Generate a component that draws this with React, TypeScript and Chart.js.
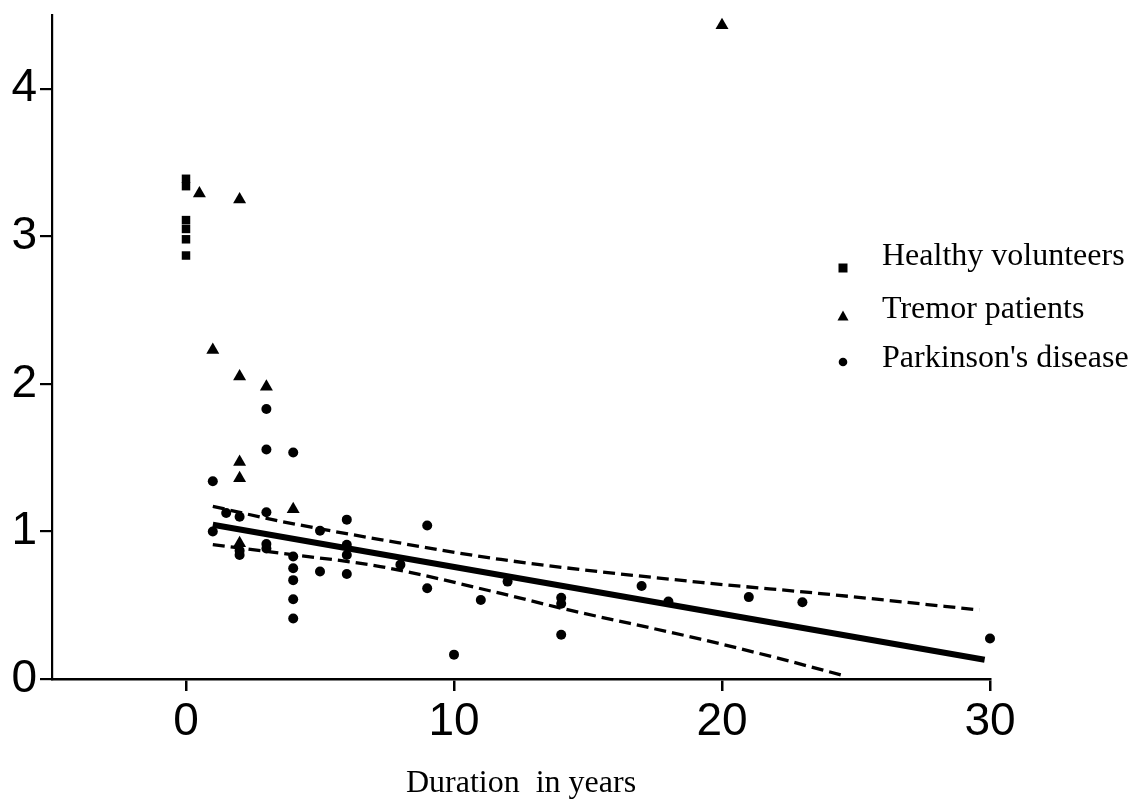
import React, { useEffect, useRef } from "react";
import { Chart, registerables } from "chart.js";

Chart.register(...registerables);

// ---- Data ----
const HEALTHY_X = [0, 0, 0, 0, 0, 0];
const HEALTHY_Y = [3.39, 3.34, 3.11, 3.05, 2.98, 2.87];

const TREMOR_X = [0.5, 2, 1, 2, 3, 2, 2, 4, 2, 20];
const TREMOR_Y = [3.29, 3.25, 2.23, 2.05, 1.98, 1.47, 1.36, 1.15, 0.92, 4.43];

const PD_X = [
  1, 1.5, 2, 3, 3, 3, 4, 5, 6, 1, 2, 2, 3, 3, 4, 4, 4, 4, 4, 5, 6, 6, 6, 8, 9, 9, 10, 11, 12, 14, 14, 14, 17,
  18, 21, 23, 30,
];
const PD_Y = [
  1.34, 1.125, 1.1, 1.13, 1.83, 1.555, 1.535, 1.005, 1.08, 1.0, 0.87, 0.84, 0.915, 0.885, 0.83, 0.75, 0.67, 0.54,
  0.41, 0.728, 0.91, 0.84, 0.712, 0.775, 1.04, 0.615, 0.165, 0.535, 0.66, 0.55, 0.51, 0.3, 0.63, 0.525, 0.555,
  0.52, 0.275,
];

const FIT_X = [1, 29.8];
const FIT_Y = [1.045, 0.13];

const UPPER_X = [1, 3.5, 7.25, 11.75, 19.2, 23.8, 29.6];
const UPPER_Y = [1.17, 1.07, 0.945, 0.81, 0.655, 0.577, 0.468];

const LOWER_X = [1, 3.5, 7.25, 11.75, 14, 19.2, 22, 24.6];
const LOWER_Y = [0.91, 0.853, 0.762, 0.58, 0.48, 0.27, 0.145, 0.02];

const X_TICKS = [0, 10, 20, 30];
const Y_TICKS = [0, 1, 2, 3, 4];

const LEGEND_LABELS = ["Healthy volunteers", "Tremor patients", "Parkinson's disease"];
const LEGEND_STYLES = ["rect", "triangle", "circle"];

const X_TITLE = "Duration  in years";

const SANS = '"Liberation Sans", Arial, Helvetica, sans-serif';
const SERIF = '"Liberation Serif", "Times New Roman", Times, serif';

const toPts = (xs: number[], ys: number[]) => xs.map((x, i) => ({ x, y: ys[i] }));

export default function App() {
  const ref = useRef<HTMLCanvasElement>(null);

  useEffect(() => {
    if (!ref.current) return;

    const legendPlugin = {
      id: "customLegend",
      afterDraw(chart: any) {
        const ctx = chart.ctx as CanvasRenderingContext2D;
        const area = chart.chartArea;
        const mx = area.right - 147;
        const tx = area.right - 108;
        const textBase = [265, 318, 367];
        const markY = [268, 316, 362];
        ctx.save();
        ctx.fillStyle = "#000";
        ctx.font = `32px ${SERIF}`;
        ctx.textBaseline = "alphabetic";
        ctx.textAlign = "left";
        LEGEND_LABELS.forEach((label, i) => {
          ctx.fillText(label, tx, textBase[i]);
          const y = markY[i];
          ctx.beginPath();
          if (LEGEND_STYLES[i] === "rect") {
            ctx.rect(mx - 4.5, y - 4.5, 9, 9);
          } else if (LEGEND_STYLES[i] === "triangle") {
            ctx.moveTo(mx, y - 5.5);
            ctx.lineTo(mx + 5.5, y + 4.5);
            ctx.lineTo(mx - 5.5, y + 4.5);
            ctx.closePath();
          } else {
            ctx.arc(mx, y, 4.3, 0, Math.PI * 2);
          }
          ctx.fill();
        });
        ctx.restore();
      },
    };

    const chart = new Chart(ref.current, {
      type: "scatter",
      data: {
        datasets: [
          {
            label: LEGEND_LABELS[0],
            data: toPts(HEALTHY_X, HEALTHY_Y),
            pointStyle: "rect",
            pointRadius: 6,
            backgroundColor: "#000",
            borderColor: "#000",
            borderWidth: 0,
            clip: false,
          },
          {
            label: LEGEND_LABELS[1],
            data: toPts(TREMOR_X, TREMOR_Y),
            pointStyle: "triangle",
            pointRadius: 7.5,
            backgroundColor: "#000",
            borderColor: "#000",
            borderWidth: 0,
            clip: false,
          },
          {
            label: LEGEND_LABELS[2],
            data: toPts(PD_X, PD_Y),
            pointStyle: "circle",
            pointRadius: 5,
            backgroundColor: "#000",
            borderColor: "#000",
            borderWidth: 0,
            clip: false,
          },
          {
            label: "fit",
            data: toPts(FIT_X, FIT_Y),
            showLine: true,
            pointRadius: 0,
            borderColor: "#000",
            borderWidth: 6,
            clip: false,
          },
          {
            label: "upper",
            data: toPts(UPPER_X, UPPER_Y),
            showLine: true,
            cubicInterpolationMode: "monotone",
            pointRadius: 0,
            borderColor: "#000",
            borderWidth: 3.3,
            borderDash: [12, 6],
            clip: false,
          },
          {
            label: "lower",
            data: toPts(LOWER_X, LOWER_Y),
            showLine: true,
            cubicInterpolationMode: "monotone",
            pointRadius: 0,
            borderColor: "#000",
            borderWidth: 3.3,
            borderDash: [12, 6],
            clip: false,
          },
        ] as any,
      },
      options: {
        animation: false,
        responsive: false,
        devicePixelRatio: 1,
        layout: { padding: { top: 15, right: 150, left: 0, bottom: 0 } },
        plugins: {
          legend: { display: false },
          tooltip: { enabled: false },
          title: { display: false },
        },
        scales: {
          x: {
            type: "linear",
            min: -5,
            max: 30,
            afterBuildTicks: (s: any) => {
              s.ticks = X_TICKS.map((v) => ({ value: v }));
            },
            afterFit: (s: any) => {
              s.height = 125;
              s.paddingLeft = 0;
              s.paddingRight = 0;
            },
            border: { display: true, color: "#000", width: 2.6 },
            grid: {
              display: true,
              drawOnChartArea: false,
              drawTicks: true,
              tickLength: 12,
              tickWidth: 2.5,
              tickColor: "#000",
              color: "#000",
              lineWidth: 2.5,
            },
            ticks: {
              color: "#000",
              font: { family: SANS, size: 46 },
              padding: 4,
              maxRotation: 0,
              autoSkip: false,
            },
            title: {
              display: true,
              text: X_TITLE,
              color: "#000",
              font: { family: SERIF, size: 32 },
              padding: { top: 0, bottom: 1 },
            },
          },
          y: {
            type: "linear",
            min: 0,
            max: 4.5,
            afterBuildTicks: (s: any) => {
              s.ticks = Y_TICKS.map((v) => ({ value: v }));
            },
            afterFit: (s: any) => {
              s.width = 52;
              s.paddingTop = 0;
              s.paddingBottom = 0;
            },
            border: { display: true, color: "#000", width: 2.2 },
            grid: {
              display: true,
              drawOnChartArea: false,
              drawTicks: true,
              tickLength: 12,
              tickWidth: 2.2,
              tickColor: "#000",
              color: "#000",
              lineWidth: 2.2,
            },
            ticks: {
              color: "#000",
              font: { family: SANS, size: 46 },
              padding: 3,
              autoSkip: false,
            },
          },
        },
      } as any,
      plugins: [legendPlugin],
    });

    return () => chart.destroy();
  }, []);

  return (
    <div style={{ position: "absolute", left: 0, top: 0, width: 1140, height: 804, background: "#fff" }}>
      <canvas ref={ref} width={1140} height={804} style={{ display: "block", width: 1140, height: 804 }} />
    </div>
  );
}
